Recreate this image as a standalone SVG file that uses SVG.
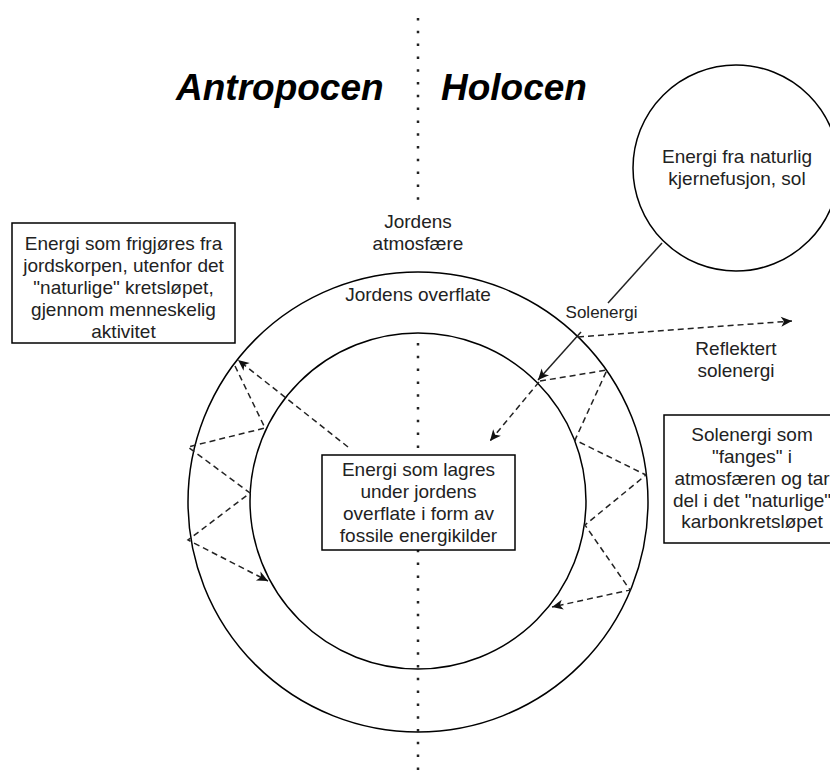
<svg xmlns="http://www.w3.org/2000/svg" width="830" height="778" viewBox="0 0 830 778">
  <style>
    .shape { fill: none; stroke: #000; stroke-width: 1.5; }
    .box { fill: #fff; stroke: #000; stroke-width: 1.5; }
    .txt { font-family: "Liberation Sans", Arial, sans-serif; font-size: 19px; fill: #222; text-anchor: middle; }
    .lbl { font-family: "Liberation Sans", Arial, sans-serif; font-size: 17px; fill: #222; text-anchor: middle; }
    .title { font-family: "Liberation Sans", Arial, sans-serif; font-size: 37px; font-weight: bold; font-style: italic; fill: #000; }
    .dotted { fill: none; stroke: #222; stroke-width: 2.5; stroke-dasharray: 2.5 10.3; }
    .solid { fill: none; stroke: #222; stroke-width: 1.5; }
    .dash { fill: none; stroke: #222; stroke-width: 1.5; stroke-dasharray: 6 4; }
  </style>
  <defs>
    <marker id="arrow" markerUnits="userSpaceOnUse" markerWidth="14" markerHeight="12" viewBox="0 0 14 12" refX="12" refY="6" orient="auto">
      <path d="M1,1 L12,6 L1,11 L4,6 Z" fill="#111" stroke="none"/>
    </marker>
  </defs>
  <rect width="830" height="778" fill="#fff"/>

  <g id="divider">
    <line class="dotted" x1="418" y1="18" x2="418" y2="200"/>
    <line class="dotted" x1="418" y1="343" x2="418" y2="455"/>
    <line class="dotted" x1="418" y1="549.8" x2="418" y2="778"/>
  </g>

  <g id="title-antropocen"><text class="title" x="176" y="100">Antropocen</text></g>
  <g id="title-holocen"><text class="title" x="441" y="100">Holocen</text></g>

  <g id="outer-circle"><circle class="shape" cx="418" cy="502" r="230"/></g>
  <g id="inner-circle"><circle class="shape" cx="418" cy="501" r="168"/></g>

  <g id="sun">
    <circle class="box" cx="736" cy="168" r="103"/>
    <text class="txt" x="737" y="163">Energi fra naturlig</text>
    <text class="txt" x="737" y="185">kjernefusjon, sol</text>
  </g>

  <g id="atmosphere-label">
    <text class="txt" x="418" y="228">Jordens</text>
    <text class="txt" x="418" y="250">atmosfære</text>
  </g>

  <g id="surface-label">
    <text class="txt" x="418" y="301">Jordens overflate</text>
  </g>

  <g id="reflected-label">
    <text class="txt" x="736" y="355">Reflektert</text>
    <text class="txt" x="736" y="377">solenergi</text>
  </g>

  <g id="connectors">
    <line class="solid" x1="662" y1="243" x2="608" y2="303"/>
    <line class="solid" x1="581" y1="332" x2="538" y2="380" marker-end="url(#arrow)"/>
    <text class="lbl" x="601.5" y="318">Solenergi</text>
    <line class="dash" x1="578" y1="337" x2="792" y2="321" marker-end="url(#arrow)"/>
    <line class="dash" x1="539" y1="382" x2="490" y2="441" marker-end="url(#arrow)"/>
    <polyline class="dash" points="540,381 607,370 575,440 646,475 585,525 630,590 552,607" marker-end="url(#arrow)"/>
    <line class="dash" x1="348" y1="447" x2="238" y2="360" marker-end="url(#arrow)"/>
    <polyline class="dash" points="235,366 265,428 188,447 250,493 188,540 268,581" marker-end="url(#arrow)"/>
  </g>

  <g id="box-human">
    <rect class="box" x="12" y="223" width="223" height="120"/>
    <text class="txt" x="123.5" y="250">Energi som frigjøres fra</text>
    <text class="txt" x="123.5" y="272">jordskorpen, utenfor det</text>
    <text class="txt" x="123.5" y="294">"naturlige" kretsløpet,</text>
    <text class="txt" x="123.5" y="316">gjennom menneskelig</text>
    <text class="txt" x="123.5" y="338">aktivitet</text>
  </g>

  <g id="box-fossil">
    <rect class="box" x="322" y="455" width="193" height="95"/>
    <text class="txt" x="418.5" y="476">Energi som lagres</text>
    <text class="txt" x="418.5" y="498">under jordens</text>
    <text class="txt" x="418.5" y="520">overflate i form av</text>
    <text class="txt" x="418.5" y="542">fossile energikilder</text>
  </g>

  <g id="box-captured">
    <rect class="box" x="664" y="415" width="176" height="128"/>
    <text class="txt" x="752" y="441">Solenergi som</text>
    <text class="txt" x="752" y="463">"fanges" i</text>
    <text class="txt" x="752" y="485">atmosfæren og tar</text>
    <text class="txt" x="752" y="507">del i det "naturlige"</text>
    <text class="txt" x="752" y="528">karbonkretsløpet</text>
  </g>
</svg>
